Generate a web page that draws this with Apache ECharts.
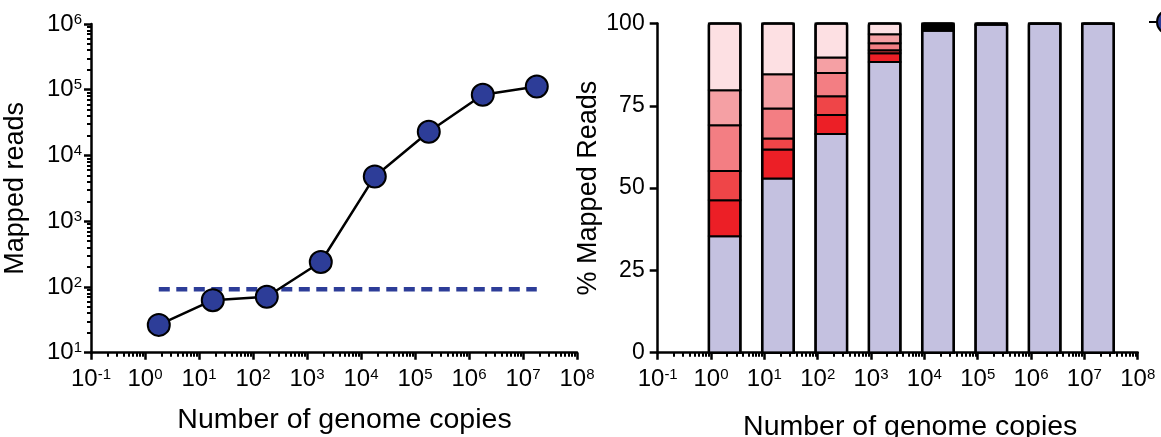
<!DOCTYPE html>
<html>
<head>
<meta charset="utf-8">
<script src="https://cdn.jsdelivr.net/npm/echarts@6/dist/echarts.min.js"></script>
<style>
html,body{margin:0;padding:0;background:#fff;}
#chart{width:1161px;height:437px;}
</style>
</head>
<body>
<div id="chart"></div>
<script>
// ---- data ----
const genomeCopies = [1.8, 18, 180, 1800, 18000, 180000, 1800000, 18000000];
const mappedReads = [26.5, 63, 71, 240, 4800, 23000, 84000, 112000];
const detectionLimit = 92;
const xTickExponents = [-1, 0, 1, 2, 3, 4, 5, 6, 7, 8];
const yTickExponents = [1, 2, 3, 4, 5, 6];
const pctTicks = [0, 25, 50, 75, 100];
// stacked % of mapped reads (bottom to top)
const targetPct = [35.4, 52.9, 66.4, 88.3, 97.8, 99.6, 99.9, 99.9];
const red1Pct   = [10.9, 8.8, 5.8, 2.7, 0, 0, 0, 0];
const red2Pct   = [8.9, 3.4, 5.7, 0.9, 0, 0, 0, 0];
const red3Pct   = [13.9, 9.1, 7.1, 2.1, 0, 0, 0, 0];
const red4Pct   = [10.65, 10.4, 4.7, 2.7, 0, 0, 0, 0];
const red5Pct   = [20.25, 15.4, 10.3, 3.3, 0, 0, 0, 0];
const otherPct  = [0, 0, 0, 0, 2.2, 0.4, 0.1, 0.1];

// ---- styles ----
const FONT = "'Liberation Sans', Arial, sans-serif";
const BLUE = '#2d3d98';
const segColors = ['#c4c1e0', '#ec1f26', '#ef4548', '#f37e83', '#f5a0a4', '#fde0e3', '#000000'];

const log = Math.log10;
const minorX = [];
for (let n = -1; n < 8; n++) for (let k = 2; k <= 9; k++) minorX.push(n + log(k));
const minorY = [];
for (let n = 1; n < 6; n++) for (let k = 2; k <= 9; k++) minorY.push(n + log(k));

const rich = {
  b: {fontSize: 24, fontFamily: FONT, color: '#000'},
  s: {fontSize: 15, fontFamily: FONT, color: '#000', verticalAlign: 'top'}
};
const powFmt = v => '{b|10}{s|' + Math.round(v) + '}';

function mainX(grid, name, gap, shift) {
  return {
    type: 'value', gridIndex: grid, min: -1, max: 8, interval: 1, position: 'bottom',
    name: name, nameLocation: 'middle', nameGap: gap,
    nameTextStyle: {fontSize: 28.5, fontFamily: FONT, color: '#000', padding: [0, 0, 0, shift]},
    axisLine: {show: true, onZero: false, lineStyle: {color: '#000', width: 2.5}},
    axisTick: {show: true, length: 7, lineStyle: {color: '#000', width: 2.5}},
    axisLabel: {show: true, margin: 15, formatter: powFmt, rich: rich,
      customValues: xTickExponents},
    splitLine: {show: false}
  };
}
function minorXAxis(grid) {
  return {
    type: 'value', gridIndex: grid, min: -1, max: 8, position: 'bottom',
    axisLine: {show: false, onZero: false},
    axisTick: {show: true, length: 4, customValues: minorX, lineStyle: {color: '#000', width: 2}},
    axisLabel: {show: false},
    splitLine: {show: false}
  };
}

const lineData = genomeCopies.map((x, i) => [log(x), log(mappedReads[i])]);
const limitData = [[log(genomeCopies[0]), log(detectionLimit)],
                   [log(genomeCopies[genomeCopies.length - 1]), log(detectionLimit)]];
const barData = genomeCopies.map((x, i) =>
  [log(x), targetPct[i], red1Pct[i], red2Pct[i], red3Pct[i], red4Pct[i], red5Pct[i], otherPct[i]]);

const BAR_W = 31.5;

const option = {
  animation: false,
  textStyle: {fontFamily: FONT},
  legend: {
    data: ['Mapped reads'], left: 1148, top: 9, itemWidth: 40, itemHeight: 30,
    padding: 0, textStyle: {fontSize: 20, color: '#000'}
  },
  grid: [
    {left: 91, top: 24, width: 486, height: 328.7, containLabel: false, outerBoundsMode: 'none'},
    {left: 657.7, top: 23.5, width: 480, height: 329.2, containLabel: false, outerBoundsMode: 'none'}
  ],
  xAxis: [
    mainX(0, 'Number of genome copies', 53, 21),
    minorXAxis(0),
    mainX(1, 'Number of genome copies', 60, 25),
    minorXAxis(1)
  ],
  yAxis: [
    {
      type: 'value', gridIndex: 0, min: 1, max: 6, interval: 1, position: 'left',
      name: 'Mapped reads', nameLocation: 'middle', nameGap: 62,
      nameTextStyle: {fontSize: 27, fontFamily: FONT, color: '#000'},
      axisLine: {show: true, onZero: false, lineStyle: {color: '#000', width: 2.5}},
      axisTick: {show: true, length: 7, lineStyle: {color: '#000', width: 2.5}},
      axisLabel: {show: true, margin: 9, formatter: powFmt, rich: rich, customValues: yTickExponents},
      splitLine: {show: false}
    },
    {
      type: 'value', gridIndex: 0, min: 1, max: 6, position: 'left',
      axisLine: {show: false, onZero: false},
      axisTick: {show: true, length: 4, customValues: minorY, lineStyle: {color: '#000', width: 2}},
      axisLabel: {show: false},
      splitLine: {show: false}
    },
    {
      type: 'value', gridIndex: 1, min: 0, max: 100, interval: 25, position: 'left',
      name: '% Mapped Reads', nameLocation: 'middle', nameGap: 48,
      nameTextStyle: {fontSize: 27, fontFamily: FONT, color: '#000'},
      axisLine: {show: true, onZero: false, lineStyle: {color: '#000', width: 2.5}},
      axisTick: {show: true, length: 8, lineStyle: {color: '#000', width: 2.5}},
      axisLabel: {show: true, margin: 13, fontSize: 23, color: '#000', fontFamily: FONT,
        customValues: pctTicks},
      splitLine: {show: false}
    }
  ],
  series: [
    {
      name: 'Detection limit', type: 'line', xAxisIndex: 0, yAxisIndex: 0,
      data: limitData, symbol: 'none', silent: true, z: 1,
      lineStyle: {color: BLUE, width: 4.5, type: [11, 6.5]}
    },
    {
      name: 'Mapped reads', type: 'line', xAxisIndex: 0, yAxisIndex: 0,
      data: lineData, symbol: 'circle', symbolSize: 22, z: 3,
      lineStyle: {color: '#000', width: 2.5},
      itemStyle: {color: BLUE, borderColor: '#000', borderWidth: 2}
    },
    {
      name: 'Composition', type: 'custom', xAxisIndex: 2, yAxisIndex: 2,
      data: barData, encode: {x: 0, y: 1}, clip: false,
      renderItem: function (params, api) {
        const lx = api.value(0);
        const children = [];
        let cum = 0;
        for (let k = 1; k <= 7; k++) {
          const v = api.value(k);
          if (!(v > 0)) continue;
          const p0 = api.coord([lx, cum]);
          const p1 = api.coord([lx, cum + v]);
          children.push({
            type: 'rect',
            shape: {x: p0[0] - BAR_W / 2, y: p1[1], width: BAR_W, height: p0[1] - p1[1]},
            style: {fill: segColors[k - 1], stroke: '#000', lineWidth: 2}
          });
          cum += v;
        }
        const b0 = api.coord([lx, 0]);
        const b1 = api.coord([lx, cum]);
        children.push({
          type: 'rect',
          shape: {x: b0[0] - BAR_W / 2, y: b1[1], width: BAR_W, height: b0[1] - b1[1], r: [2, 2, 0, 0]},
          style: {fill: 'none', stroke: '#000', lineWidth: 2.5}
        });
        return {type: 'group', children: children};
      }
    }
  ]
};

const chart = echarts.init(document.getElementById('chart'), null, {renderer: 'canvas'});
chart.setOption(option);
</script>
</body>
</html>
